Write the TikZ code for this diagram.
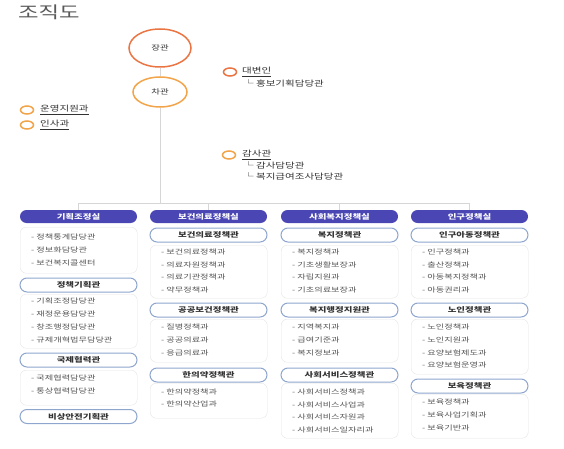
\documentclass[tikz,border=0pt]{standalone}
\usepackage{fontspec}
\setmainfont[FakeStretch=1.35]{Noto Sans CJK KR}
\usetikzlibrary{shapes.geometric}

\definecolor{headblue}{HTML}{4A46B4}
\definecolor{pillline}{HTML}{8EA6CE}
\definecolor{boxline}{HTML}{E4E4E4}
\definecolor{txtgray}{HTML}{555555}
\definecolor{jangred}{HTML}{EB7443}
\definecolor{chaorange}{HTML}{F2A44A}
\definecolor{linkgray}{HTML}{D6D6D6}

\begin{document}
\begin{tikzpicture}[
  x=1pt,y=-1pt,
  every node/.style={font=\fontsize{7}{8}\selectfont},
  head/.style={fill=headblue,text=white,rounded corners=6.5pt,minimum width=117pt,
    minimum height=13pt,inner sep=0pt,font=\fontsize{7}{8}\selectfont\bfseries},
  pill/.style={draw=pillline,line width=1pt,fill=white,rounded corners=7pt,
    minimum width=117pt,minimum height=14pt,inner sep=0pt,text=black!80,
    font=\fontsize{7}{8}\selectfont\bfseries},
  listbox/.style={draw=boxline,rounded corners=6pt,minimum width=117pt,
    anchor=north west,inner sep=0pt},
  item/.style={anchor=west,inner sep=0pt,text=txtgray,font=\fontsize{6.8}{8}\selectfont},
  side/.style={anchor=west,inner sep=0pt,text=black!80,font=\fontsize{7.8}{9}\selectfont},
  bullet/.style={ellipse,line width=1.5pt,minimum width=13pt,minimum height=8pt,inner sep=0pt},
  chief/.style={ellipse,line width=1.5pt,inner sep=0pt,text=black!80},
  link/.style={draw=linkgray,line width=1pt}]
  \path[use as bounding box] (0,0) rectangle (564,449);

  % Top: title, minister and vice minister.
  \node[font=\fontsize{16.5}{18}\selectfont,text=black!65,anchor=west,inner sep=0pt]
    (title) at (18,12) {조직도};
  \node[chief,draw=jangred,minimum width=62pt,minimum height=38pt] (jang) at (160,48) {장관};
  \node[chief,draw=chaorange,minimum width=54pt,minimum height=30pt] (cha) at (160,92) {차관};
  \coordinate (bus) at (160,203);

  % Staff offices beside the trunk.
  \node[bullet,draw=jangred] (spkb) at (230,72) {};
  \node[side] (spk) at (242,72) {\underline{대변인}};
  \node[side] (spk1) at (243,83) {└ 홍보기획담당관};
  \node[bullet,draw=chaorange] (opsb) at (27,110) {};
  \node[side] (ops) at (40,110) {\underline{운영지원과}};
  \node[bullet,draw=chaorange] (hrb) at (27,125) {};
  \node[side] (hr) at (40,125) {\underline{인사과}};
  \node[bullet,draw=chaorange] (audb) at (229,155) {};
  \node[side] (aud) at (242,155) {\underline{감사관}};
  \node[side] (aud1) at (243,165) {└ 감사담당관};
  \node[side] (aud2) at (243,176) {└ 복지급여조사담당관};

  % Column 1: planning and coordination.
  \begin{scope}[shift={(20,0)}]
    \node[head] (h1) at (58.5,216.5) {기획조정실};
    \node[listbox,minimum height=46pt] (b11) at (0,227) {};
    \node[item] (i111) at (11,237) {- 정책통계담당관};
    \node[item] (i112) at (11,250) {- 정보화담당관};
    \node[item] (i113) at (11,263) {- 보건복지콜센터};
    \node[pill] (p12) at (58.5,285) {정책기획관};
    \node[listbox,minimum height=54pt] (b12) at (0,294) {};
    \node[item] (i121) at (11,301) {- 기획조정담당관};
    \node[item] (i122) at (11,314) {- 재정운용담당관};
    \node[item] (i123) at (11,327) {- 창조행정담당관};
    \node[item] (i124) at (11,340) {- 규제개혁법무담당관};
    \node[pill] (p13) at (58.5,360) {국제협력관};
    \node[listbox,minimum height=35pt] (b13) at (0,370) {};
    \node[item] (i131) at (11,378) {- 국제협력담당관};
    \node[item] (i132) at (11,391) {- 통상협력담당관};
    \node[pill] (p14) at (58.5,416.5) {비상안전기획관};
  \end{scope}

  % Column 2: health and medical policy.
  \begin{scope}[shift={(150,0)}]
    \node[head] (h2) at (58.5,216.5) {보건의료정책실};
    \node[pill] (p21) at (58.5,235) {보건의료정책관};
    \node[listbox,minimum height=53pt] (b21) at (0,245) {};
    \node[item] (i211) at (11,252) {- 보건의료정책과};
    \node[item] (i212) at (11,264.5) {- 의료자원정책과};
    \node[item] (i213) at (11,277) {- 의료기관정책과};
    \node[item] (i214) at (11,289.5) {- 약무정책과};
    \node[pill] (p22) at (58.5,310) {공공보건정책관};
    \node[listbox,minimum height=43pt] (b22) at (0,319) {};
    \node[item] (i221) at (11,327) {- 질병정책과};
    \node[item] (i222) at (11,340) {- 공공의료과};
    \node[item] (i223) at (11,352.5) {- 응급의료과};
    \node[pill] (p23) at (58.5,375) {한의약정책관};
    \node[listbox,minimum height=35pt] (b23) at (0,383) {};
    \node[item] (i231) at (11,392) {- 한의약정책과};
    \node[item] (i232) at (11,404) {- 한의약산업과};
  \end{scope}

  % Column 3: social welfare policy.
  \begin{scope}[shift={(281,0)}]
    \node[head] (h3) at (58.5,216.5) {사회복지정책실};
    \node[pill] (p31) at (58.5,235) {복지정책관};
    \node[listbox,minimum height=53pt] (b31) at (0,245) {};
    \node[item] (i311) at (11,252) {- 복지정책과};
    \node[item] (i312) at (11,264.5) {- 기초생활보장과};
    \node[item] (i313) at (11,277) {- 자립지원과};
    \node[item] (i314) at (11,289.5) {- 기초의료보장과};
    \node[pill] (p32) at (58.5,310) {복지행정지원관};
    \node[listbox,minimum height=43pt] (b32) at (0,319) {};
    \node[item] (i321) at (11,327) {- 지역복지과};
    \node[item] (i322) at (11,340) {- 급여기준과};
    \node[item] (i323) at (11,352.5) {- 복지정보과};
    \node[pill] (p33) at (58.5,375) {사회서비스정책관};
    \node[listbox,minimum height=55pt] (b33) at (0,383) {};
    \node[item] (i331) at (11,392) {- 사회서비스정책과};
    \node[item] (i332) at (11,404.5) {- 사회서비스사업과};
    \node[item] (i333) at (11,417) {- 사회서비스자원과};
    \node[item] (i334) at (11,429.5) {- 사회서비스일자리과};
  \end{scope}

  % Column 4: population policy.
  \begin{scope}[shift={(411,0)}]
    \node[head] (h4) at (58.5,216.5) {인구정책실};
    \node[pill] (p41) at (58.5,235) {인구아동정책관};
    \node[listbox,minimum height=53pt] (b41) at (0,245) {};
    \node[item] (i411) at (11,252) {- 인구정책과};
    \node[item] (i412) at (11,264.5) {- 출산정책과};
    \node[item] (i413) at (11,277) {- 아동복지정책과};
    \node[item] (i414) at (11,289.5) {- 아동권리과};
    \node[pill] (p42) at (58.5,310) {노인정책관};
    \node[listbox,minimum height=55pt] (b42) at (0,319) {};
    \node[item] (i421) at (11,327) {- 노인정책과};
    \node[item] (i422) at (11,340) {- 노인지원과};
    \node[item] (i423) at (11,352.5) {- 요양보험제도과};
    \node[item] (i424) at (11,365) {- 요양보험운영과};
    \node[pill] (p43) at (58.5,386) {보육정책관};
    \node[listbox,minimum height=44pt] (b43) at (0,394) {};
    \node[item] (i431) at (11,402) {- 보육정책과};
    \node[item] (i432) at (11,415) {- 보육사업기획과};
    \node[item] (i433) at (11,428) {- 보육기반과};
  \end{scope}

  % Trunk and bus to the four offices.
  \draw[link] (jang) -- (cha);
  \draw[link] (cha) -- (bus);
  \draw[link] (h1.north) -- (h1.north |- bus) -- (h4.north |- bus) -- (h4.north);
  \draw[link] (h2.north) -- (h2.north |- bus);
  \draw[link] (h3.north) -- (h3.north |- bus);
\end{tikzpicture}
\end{document}
